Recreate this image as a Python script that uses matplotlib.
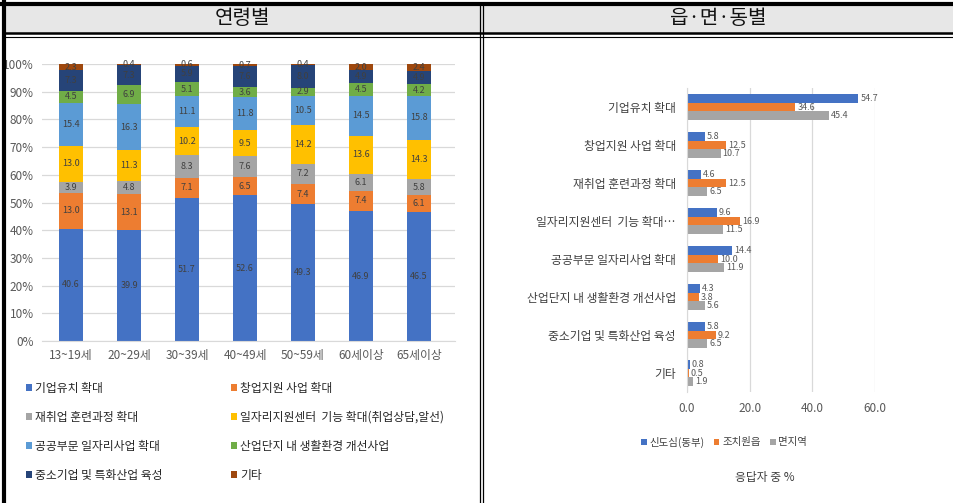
import matplotlib
matplotlib.use("Agg")
import matplotlib.pyplot as plt
from matplotlib.patches import Rectangle
from matplotlib.lines import Line2D
import numpy as np

plt.rcParams['font.family'] = ['Noto Sans CJK KR', 'DejaVu Sans']

# ---- data: by age group (stacked, %) ----
age_groups = ["13~19세", "20~29세", "30~39세", "40~49세", "50~59세", "60세이상", "65세이상"]
items = ["기업유치 확대", "창업지원 사업 확대", "재취업 훈련과정 확대",
         "일자리지원센터  기능 확대(취업상담,알선)", "공공부문 일자리사업 확대",
         "산업단지 내 생활환경 개선사업", "중소기업 및 특화산업 육성", "기타"]
s_attract   = [40.6, 39.9, 51.7, 52.6, 49.3, 46.9, 46.5]
s_startup   = [13.0, 13.1, 7.1, 6.5, 7.4, 7.4, 6.1]
s_retrain   = [3.9, 4.8, 8.3, 7.6, 7.2, 6.1, 5.8]
s_jobcenter = [13.0, 11.3, 10.2, 9.5, 14.2, 13.6, 14.3]
s_public    = [15.4, 16.3, 11.1, 11.8, 10.5, 14.5, 15.8]
s_industry  = [4.5, 6.9, 5.1, 3.6, 2.9, 4.5, 4.2]
s_sme       = [7.3, 7.3, 5.9, 7.6, 8.0, 4.9, 4.9]
s_other     = [2.3, 0.4, 0.6, 0.7, 0.4, 2.0, 2.4]
age_series = [s_attract, s_startup, s_retrain, s_jobcenter, s_public,
              s_industry, s_sme, s_other]
colors = ["#4472C4", "#ED7D31", "#A5A5A5", "#FFC000", "#5B9BD5",
          "#70AD47", "#264478", "#9E480E"]

# ---- data: by district (grouped horizontal, %) ----
district_cats = ["기업유치 확대", "창업지원 사업 확대", "재취업 훈련과정 확대",
                 "일자리지원센터  기능 확대…", "공공부문 일자리사업 확대",
                 "산업단지 내 생활환경 개선사업", "중소기업 및 특화산업 육성", "기타"]
districts = ["신도심(동부)", "조치원읍", "면지역"]
d_new_town = [54.7, 5.8, 4.6, 9.6, 14.4, 4.3, 5.8, 0.8]
d_jochiwon = [34.6, 12.5, 12.5, 16.9, 10.0, 3.8, 9.2, 0.5]
d_rural    = [45.4, 10.7, 6.5, 11.5, 11.9, 5.6, 6.5, 1.9]
district_series = [d_new_town, d_jochiwon, d_rural]

W, H = 954, 503
fig = plt.figure(figsize=(W / 100, H / 100), dpi=100)
fig.patch.set_facecolor("white")


def fx(px):
    return px / W


def fy(py):
    return 1 - py / H


tick_col = "#595959"
grid_col = "#D9D9D9"

# ---- frame & header ----
fig.patches.append(Rectangle((fx(5), fy(33)), fx(949), 28 / H, transform=fig.transFigure,
                             facecolor="#E7E7E7", edgecolor="none", zorder=0))
frame_lines = [
    ((fx(4), fx(4)), (fy(2), fy(503)), 3.0),      # outer left
    ((fx(2), fx(954)), (fy(4), fy(4)), 3.0),      # outer top
    ((fx(5), fx(954)), (fy(33), fy(33)), 1.8),    # header bottom
    ((fx(5), fx(954)), (fy(36.5), fy(36.5)), 0.8),
    ((fx(480), fx(480)), (fy(4), fy(503)), 0.9),  # divider
    ((fx(483), fx(483)), (fy(4), fy(503)), 0.9),
]
for xs, ys, lw in frame_lines:
    fig.add_artist(Line2D(xs, ys, transform=fig.transFigure, color="black", lw=lw))

fig.text(fx(242), fy(18), "연령별", ha="center", va="center", fontsize=14.5, color="#111111")
fig.text(fx(718), fy(18), "읍·면·동별", ha="center", va="center", fontsize=14.5, color="#111111")

# ---- left: stacked bars by age ----
axL = fig.add_axes([fx(42), fy(341), fx(455 - 42), (341 - 64) / H])
x = np.arange(len(age_groups))
bottom = np.zeros(len(age_groups))
handles = []
for name, vals, c in zip(items, age_series, colors):
    vals = np.array(vals)
    bars = axL.bar(x, vals, 0.4, bottom=bottom, color=c, label=name, zorder=2)
    handles.append(bars)
    for xi, b, v in zip(x, bottom, vals):
        axL.text(xi, b + v / 2, f"{v:.1f}", ha="center", va="center",
                 fontsize=6.5, color="#404040", zorder=3)
    bottom += vals

axL.set_ylim(0, 100)
axL.set_xlim(-0.5, 6.62)
axL.set_yticks(np.arange(0, 101, 10))
axL.set_yticklabels([f"{v}%" for v in range(0, 101, 10)])
axL.set_xticks(x)
axL.set_xticklabels(age_groups)
axL.tick_params(axis="both", length=0, colors=tick_col, labelsize=8.5)
axL.tick_params(axis="x", pad=6)
axL.tick_params(axis="y", pad=6)
axL.yaxis.grid(True, color=grid_col, lw=0.9, zorder=0)
axL.set_axisbelow(True)
for s in ["top", "right", "left"]:
    axL.spines[s].set_visible(False)
axL.spines["bottom"].set_color(grid_col)

# legend in two columns
col1 = [0, 2, 4, 6]
col2 = [1, 3, 5, 7]
for idxs, left_px in [(col1, 26), (col2, 231)]:
    lg = fig.legend([handles[i] for i in idxs], [items[i] for i in idxs],
                    loc="upper left", bbox_to_anchor=(fx(left_px), fy(382)),
                    frameon=False, fontsize=8.5, handlelength=0.55, handleheight=0.55,
                    handletextpad=0.25, labelspacing=1.35, borderpad=0, borderaxespad=0)
    for t in lg.get_texts():
        t.set_color("#262626")

# ---- right: grouped horizontal bars by district ----
axR = fig.add_axes([fx(687), fy(392), fx(875 - 687), (392 - 88) / H])
y = np.arange(len(district_cats))
bh = 0.23
offsets = [-bh, 0, bh]
for name, vals, c, off in zip(districts, district_series, colors[:3], offsets):
    axR.barh(y + off, vals, bh, color=c, label=name, zorder=2)
    for yi, v in zip(y, vals):
        axR.text(v + 0.6, yi + off, f"{v:.1f}", ha="left", va="center",
                 fontsize=6.5, color=tick_col, zorder=3)

axR.set_xlim(0, 60)
axR.set_ylim(len(district_cats) - 0.5, -0.5)
axR.set_xticks([0, 20, 40, 60])
axR.set_xticklabels(["0.0", "20.0", "40.0", "60.0"])
axR.set_yticks(y)
axR.set_yticklabels(district_cats)
axR.tick_params(axis="x", length=0, colors=tick_col, labelsize=8.5, pad=7)
axR.tick_params(axis="y", length=0, colors="#404040", labelsize=8.5, pad=8)
axR.xaxis.grid(True, color=grid_col, lw=0.9, zorder=0)
axR.set_axisbelow(True)
for s in ["top", "right", "bottom"]:
    axR.spines[s].set_visible(False)
axR.spines["left"].set_color(grid_col)

lgR = fig.legend(loc="center", bbox_to_anchor=(fx(724), fy(442)), ncol=3, frameon=False,
                 fontsize=7.5, handlelength=0.55, handleheight=0.55, handletextpad=0.25,
                 columnspacing=0.9, handles=axR.patches[0:1] + axR.patches[8:9] + axR.patches[16:17],
                 labels=districts)
for t in lgR.get_texts():
    t.set_color("#404040")

fig.text(fx(765), fy(477), "응답자 중 %", ha="center", va="center", fontsize=8.5, color="#404040")

fig.savefig("out.png", dpi=100)
